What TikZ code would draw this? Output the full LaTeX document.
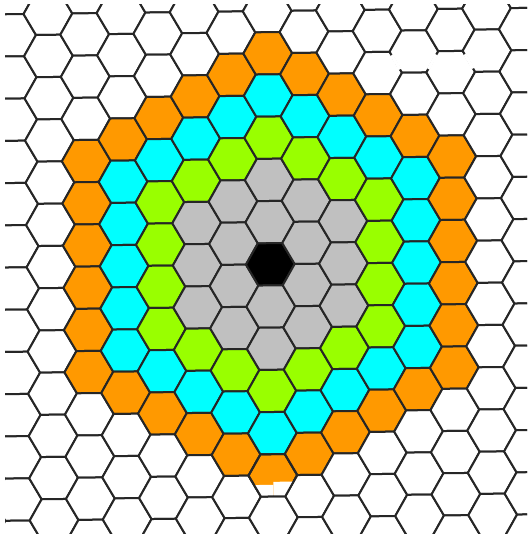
\documentclass[tikz,border=0pt]{standalone}
\usepackage{tikz}
\definecolor{horange}{RGB}{255,153,0}
\definecolor{hcyan}{RGB}{0,255,255}
\definecolor{hgreen}{RGB}{153,255,0}
\definecolor{hgray}{RGB}{192,192,192}
\begin{document}
\begin{tikzpicture}[x=0.5pt,y=-0.5pt,
  hexcell/.style={draw=black!85, line width=1pt, line join=round},
  gap/.style={draw=white, line width=1.6pt, shorten >=2pt, shorten <=2pt}]
\useasboundingbox (0,0) rectangle (528,536);
\fill[white] (0,0) rectangle (528,536);
\clip (5,4) rectangle (527,533);
\pgfmathsetmacro{\R}{24.37}
\pgfmathsetmacro{\H}{sqrt(3)*\R}
\begin{scope}[shift={(270.3,264.3)}, rotate=0.7]
\foreach \qq in {-8,...,8}{
  \foreach \rr in {-11,...,11}{
    \pgfmathtruncatemacro{\dd}{(abs(\qq)+abs(\rr)+abs(\qq+\rr))/2}
    \pgfmathsetmacro{\cx}{1.5*\R*\qq}
    \pgfmathsetmacro{\cy}{\H*(\rr+\qq/2)}
    \ifcase\dd\def\hc{black}\or\def\hc{hgray}\or\def\hc{hgray}\or\def\hc{hgreen}\or\def\hc{hcyan}\or\def\hc{horange}\else\def\hc{white}\fi
    \filldraw[hexcell, fill=\hc] (\cx,\cy) +(0:\R) -- +(60:\R) -- +(120:\R) -- +(180:\R) -- +(240:\R) -- +(300:\R) -- cycle;
  }
}
% missing edges in the upper right of the reference
\pgfmathsetmacro{\ax}{1.5*\R*3}\pgfmathsetmacro{\ay}{\H*(-6+1.5)}
\pgfmathsetmacro{\bx}{1.5*\R*4}\pgfmathsetmacro{\by}{\H*(-7+2)}
\pgfmathsetmacro{\cxx}{1.5*\R*5}\pgfmathsetmacro{\cyy}{\H*(-7+2.5)}
\draw[gap] (\ax,\ay) ++(300:\R) -- ++(60:\R);
\draw[gap] (\bx,\by) ++(0:\R) -- ++(120:\R);
\draw[gap] (\cxx,\cyy) ++(300:\R) -- ++(60:\R);
% white notch at the foot of the lowest orange cell
\pgfmathsetmacro{\nx}{0}\pgfmathsetmacro{\ny}{5*\H}
\begin{scope}
\clip (\nx,\ny) +(0:\R) -- +(60:\R) -- +(120:\R) -- +(180:\R) -- +(240:\R) -- +(300:\R) -- cycle;
\fill[white] (\nx-30,\ny+9.5) rectangle (\nx+0.5,\ny+30);
\fill[white] (\nx+0.5,\ny+6.5) rectangle (\nx+30,\ny+30);
\end{scope}
\draw[hexcell] (\nx,\ny) +(0:\R) -- +(60:\R) -- +(120:\R) -- +(180:\R) -- +(240:\R) -- +(300:\R) -- cycle;
\end{scope}
\end{tikzpicture}
\end{document}
